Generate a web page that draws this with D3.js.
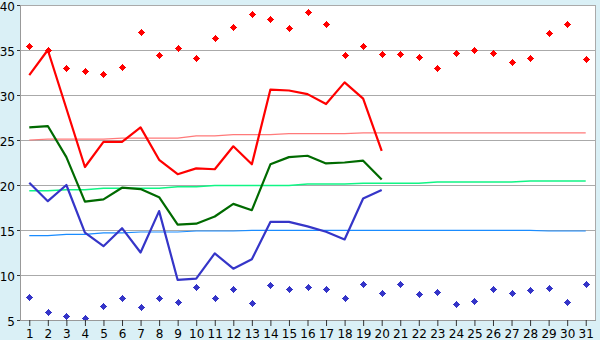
<!DOCTYPE html>
<html><head><meta charset="utf-8">
<script src="https://cdn.jsdelivr.net/npm/d3@7"></script>
<style>html,body{margin:0;padding:0;background:#daf0f6;}svg{display:block;}</style>
</head><body>
<svg id="c" width="600" height="340"></svg>
<script>
const days = [1,2,3,4,5,6,7,8,9,10,11,12,13,14,15,16,17,18,19,20,21,22,23,24,25,26,27,28,29,30,31];
const yTicks = [5,10,15,20,25,30,35,40];
const maxTemp  = [32.2,35.0,28.5,22.0,24.8,24.8,26.4,22.8,21.2,21.85,21.75,24.3,22.3,30.6,30.5,30.1,29.0,31.4,29.6,23.8];
const meanTemp = [26.4,26.55,23.1,18.15,18.4,19.7,19.55,18.65,15.6,15.7,16.5,17.9,17.2,22.3,23.1,23.25,22.4,22.5,22.7,20.6];
const minTemp  = [20.25,18.2,20.0,14.7,13.2,15.2,12.5,17.1,9.45,9.6,12.4,10.7,11.75,15.9,15.9,15.4,14.8,13.95,18.5,19.45];
const normalMax  = [25.0,25.1,25.1,25.1,25.1,25.2,25.2,25.2,25.2,25.45,25.45,25.6,25.6,25.6,25.7,25.7,25.7,25.7,25.8,25.8,25.8,25.8,25.8,25.8,25.8,25.8,25.8,25.8,25.8,25.8,25.8];
const normalMean = [19.37,19.37,19.48,19.48,19.63,19.63,19.63,19.63,19.8,19.8,19.95,19.95,19.95,19.95,19.95,20.1,20.1,20.1,20.2,20.2,20.2,20.2,20.33,20.33,20.33,20.33,20.33,20.44,20.44,20.44,20.44];
const normalMin  = [14.37,14.37,14.52,14.52,14.67,14.67,14.78,14.78,14.78,14.89,14.89,14.89,14.96,14.96,14.96,14.96,14.96,14.96,14.96,14.96,14.96,14.96,14.96,14.96,14.96,14.96,14.96,14.96,14.89,14.89,14.89];
const recordMax = [35.4,35.0,33.0,32.7,32.3,33.1,37.0,34.5,35.2,34.1,36.3,37.5,39.0,38.4,37.4,39.2,37.9,34.5,35.5,34.6,34.6,34.2,33.0,34.7,35.0,34.7,33.7,34.1,36.9,37.9,34.0];
const recordMin = [7.6,5.85,5.5,5.2,6.6,7.4,6.4,7.5,7.0,8.7,7.5,8.4,6.9,8.85,8.5,8.7,8.4,7.5,9.0,8.0,9.0,7.85,8.1,6.75,7.1,8.4,8.0,8.3,8.6,7.0,9.0];

const svg = d3.select("#c");
const L = 20, R = 595, T = 5, B = 320;
const x = d3.scaleLinear().domain([0.5, 31.5]).range([L, R]);
const y = d3.scaleLinear().domain([5, 40]).range([B, T]);

svg.append("rect").attr("width",600).attr("height",340).attr("fill","#daf0f6");
svg.append("rect").attr("x",L).attr("y",T).attr("width",R-L).attr("height",B-T).attr("fill","#fff");

// gridlines
svg.append("g").selectAll("line").data(yTicks.filter(v=>v>5)).join("line")
  .attr("x1",L).attr("x2",R+1).attr("y1",d=>Math.round(y(d))+0.5).attr("y2",d=>Math.round(y(d))+0.5)
  .attr("stroke","#aaaaaa").attr("stroke-width",1);
svg.append("line").attr("x1",R+0.5).attr("x2",R+0.5).attr("y1",T).attr("y2",B+1).attr("stroke","#aaaaaa");

function line(data){
  return d3.line().x((d,i)=>x(days[i])).y(d=>y(d))(data);
}
function drawLine(data,color,w){
  svg.append("path").attr("d",line(data)).attr("fill","none").attr("stroke",color)
    .attr("stroke-width",w).attr("stroke-linejoin","round");
}
drawLine(normalMax,"#ff7a7a",1.2);
drawLine(normalMean,"#10f585",1.5);
drawLine(normalMin,"#1a8cff",1.2);

function markers(data,color){
  const g = svg.append("g").attr("fill",color).attr("shape-rendering","crispEdges");
  data.forEach((v,i)=>{
    const cx = Math.round(x(days[i])), cy = Math.round(y(v));
    g.append("rect").attr("x",cx-2).attr("y",cy-1).attr("width",5).attr("height",3);
    g.append("rect").attr("x",cx-1).attr("y",cy-2).attr("width",3).attr("height",5);
    g.append("rect").attr("x",cx).attr("y",cy-3).attr("width",1).attr("height",7);
    g.append("rect").attr("x",cx-3).attr("y",cy).attr("width",7).attr("height",1);
  });
}
markers(recordMax,"#ff0000");
markers(recordMin,"#3535c8");

drawLine(maxTemp,"#ff0000",2.2);
drawLine(meanTemp,"#006a00",2.2);
drawLine(minTemp,"#3535c8",2.2);

// axes
const ya = svg.append("g").attr("transform",`translate(${L},0)`)
  .call(d3.axisLeft(y).tickValues(yTicks).tickSize(3).tickSizeOuter(0).tickPadding(2));
const xa = svg.append("g").attr("transform",`translate(0,${B})`)
  .call(d3.axisBottom(x).tickValues(days).tickFormat(d3.format("d")).tickSize(6).tickSizeOuter(0).tickPadding(3.5));
[ya,xa].forEach(g=>{
  g.attr("font-family","'DejaVu Sans', Verdana, sans-serif").attr("font-size",12);
  g.select(".domain").attr("stroke","#999999");
  g.selectAll(".tick line").attr("stroke","#333333");
  g.selectAll(".tick text").attr("fill","#000");
});
ya.selectAll(".tick text").attr("dy","0.45em");
xa.select(".domain").attr("d",`M${L},0.5H${R+1}`);
ya.select(".domain").attr("d",`M0.5,${T}V${B+1}`);
</script>
</body></html>
